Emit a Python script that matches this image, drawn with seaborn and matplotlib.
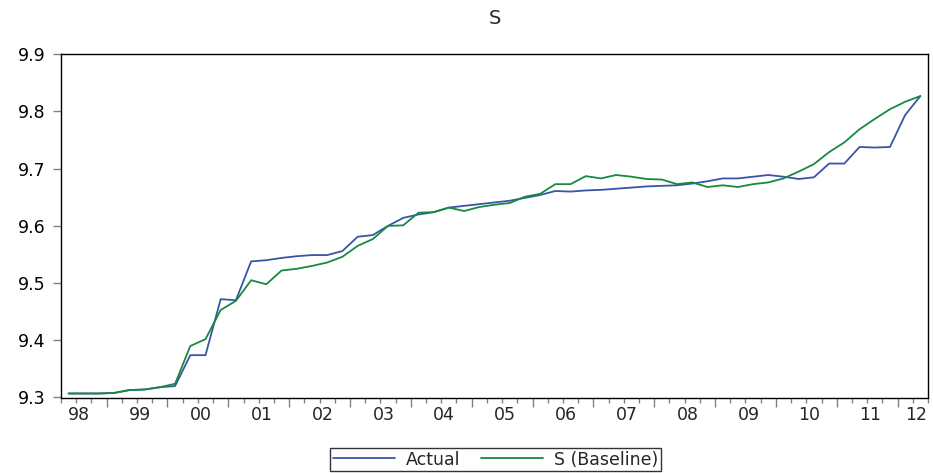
import pandas as pd
import matplotlib
matplotlib.use('Agg')
import matplotlib.pyplot as plt
import seaborn as sns
import numpy as np

# --- data: quarterly, 1998Q2 .. 2012Q2 ---
first_year = 1998
first_quarter = 2
actual = [9.307, 9.307, 9.307, 9.308, 9.313, 9.314, 9.318, 9.320, 9.374, 9.374,
          9.472, 9.470, 9.538, 9.540, 9.544, 9.547, 9.549, 9.549, 9.556, 9.581,
          9.584, 9.600, 9.614, 9.620, 9.624, 9.632, 9.635, 9.638, 9.641, 9.644,
          9.649, 9.654, 9.661, 9.660, 9.662, 9.663, 9.665, 9.667, 9.669, 9.670,
          9.671, 9.674, 9.678, 9.683, 9.683, 9.686, 9.689, 9.686, 9.682, 9.685,
          9.709, 9.709, 9.738, 9.737, 9.738, 9.794, 9.827]
baseline = [9.307, 9.307, 9.307, 9.308, 9.313, 9.314, 9.318, 9.324, 9.390, 9.402,
            9.453, 9.469, 9.505, 9.498, 9.522, 9.525, 9.530, 9.536, 9.546, 9.565,
            9.577, 9.600, 9.601, 9.623, 9.624, 9.632, 9.626, 9.633, 9.637, 9.640,
            9.651, 9.656, 9.673, 9.673, 9.687, 9.683, 9.689, 9.686, 9.682, 9.681,
            9.673, 9.676, 9.668, 9.671, 9.668, 9.673, 9.676, 9.683, 9.695, 9.708,
            9.729, 9.746, 9.769, 9.787, 9.804, 9.817, 9.827]
series_names = ['Actual', 'S (Baseline)']
year_labels = ['98', '99', '00', '01', '02', '03', '04', '05', '06', '07',
               '08', '09', '10', '11', '12']
y_ticks = [9.3, 9.4, 9.5, 9.6, 9.7, 9.8, 9.9]

n = len(actual)
df = pd.DataFrame({
    't': np.concatenate([np.arange(n), np.arange(n)]),
    'value': actual + baseline,
    'series': [series_names[0]] * n + [series_names[1]] * n,
})

# --- plot ---
sns.set_theme(style="white")
plt.rcParams['font.family'] = ['DejaVu Sans']

FS = 12.5

fig = plt.figure(figsize=(9.33, 4.73), dpi=100)
ax = fig.add_axes([61 / 933, 1 - 397.5 / 473, 867 / 933, 343.2 / 473])

sns.lineplot(data=df, x='t', y='value', hue='series',
             palette=['#3a55a6', '#168a40'], linewidth=1.3, ax=ax, legend=True)

ax.set_xlim(-0.5, n - 0.5)
ax.set_ylim(9.3, 9.9)
ax.set_xlabel('')
ax.set_ylabel('')
ax.set_title('S', fontsize=14, pad=22)

for s in ax.spines.values():
    s.set_color('black')
    s.set_linewidth(1.0)

# y axis
ax.set_yticks(y_ticks)
ax.set_yticklabels([f'{v:.1f}' for v in y_ticks])
ax.tick_params(axis='y', direction='out', length=6, width=1, color='#808080',
               labelsize=FS, pad=5, left=True, labelcolor='black')

# x axis: year labels centred in each year, quarter / year ticks on a second axis
offset = 4 - first_quarter + 1  # index of first Q1
label_pos = [min(offset - 2.3 + 4 * k, n - 1.3) for k in range(len(year_labels))]
ax.set_xticks(label_pos)
ax.set_xticklabels(year_labels)
ax.tick_params(axis='x', length=0, labelsize=FS, pad=6, bottom=True)

sec = ax.secondary_xaxis('bottom')
sec.set_xticks(np.arange(offset - 0.5, n, 4))
sec.set_xticks(np.arange(-0.5, n, 1), minor=True)
sec.set_xticklabels([])
sec.tick_params(which='major', direction='out', length=6.5, width=1, color='#808080')
sec.tick_params(which='minor', direction='out', length=3.5, width=1, color='#808080')
sec.spines['bottom'].set_visible(False)

leg = ax.legend(loc='upper center', bbox_to_anchor=(0.531, 0.053),
                bbox_transform=fig.transFigure, ncol=2, frameon=True,
                fontsize=FS, handlelength=3.6, columnspacing=1.2,
                handletextpad=0.6, borderpad=0.15, borderaxespad=0,
                fancybox=False)
leg.get_frame().set_edgecolor('black')
leg.get_frame().set_linewidth(1.0)
for line in leg.get_lines():
    line.set_linewidth(1.3)

fig.savefig('out.png', dpi=100)
plt.close(fig)
